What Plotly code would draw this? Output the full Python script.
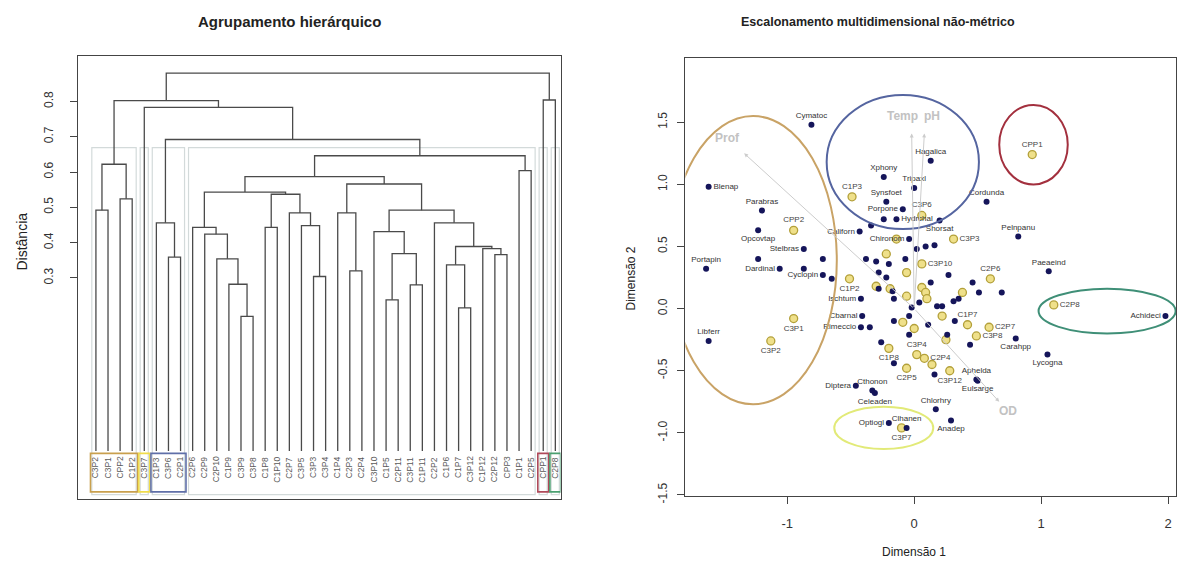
import plotly.graph_objects as go

FONT = "Liberation Sans, Arial, sans-serif"
W, H = 1177, 572

# ---------------- Dendrogram data ----------------
leaf_labels = ["C3P2", "C3P1", "CPP2", "C1P2", "C3P7", "C1P3", "C3P6", "C2P1",
               "C2P6", "C2P9", "C2P10", "C1P9", "C3P9", "C3P8", "C1P8", "C1P10",
               "C2P7", "C3P5", "C3P3", "C3P4", "C1P4", "C2P3", "C2P4", "C3P10",
               "C1P5", "C2P11", "C3P11", "C1P11", "C2P2", "C1P6", "C1P7", "C3P12",
               "C1P12", "C2P12", "CPP3", "C1P1", "C2P5", "CPP1", "C2P8"]
# R-style merge table: negative = leaf (1-based), positive = earlier merge (1-based)
merge_a = [-13, -25, -31, -12, -27, -19, -22, -30, -11, -7, -34, 2, -33, 8, -10, -24,
           -9, -15, -18, -6, -29, -17, -21, -1, 16, -3, 18, 17, 23, 28, -36, 24, 30,
           20, -5, 32, -38, 36]
merge_b = [-14, -26, -32, 1, -28, -20, -23, 3, 4, -8, -35, 5, 11, 13, 9, 12,
           15, -16, 6, 10, 14, 19, 7, -2, 21, -4, 22, 27, 25, 29, -37, 26, 31,
           33, 34, 35, -39, 37]
merge_h = [0.191, 0.238, 0.215, 0.282, 0.280, 0.304, 0.320, 0.337, 0.354, 0.359,
           0.366, 0.369, 0.383, 0.389, 0.424, 0.431, 0.443, 0.443, 0.448, 0.456,
           0.456, 0.484, 0.484, 0.492, 0.492, 0.524, 0.537, 0.543, 0.566, 0.587,
           0.604, 0.622, 0.646, 0.692, 0.783, 0.802, 0.804, 0.880]
leaf_bottom = -0.19
# rect.hclust (k = 6) clusters, leaf index ranges (0-based)
clus_first = [0, 4, 5, 8, 37, 38]
clus_last = [3, 4, 7, 36, 37, 38]
clus_cut = 0.669
# coloured label boxes
box_first = [0, 4, 5, 37, 38]
box_last = [3, 4, 7, 37, 38]
box_color = ["#c9a04e", "#f0dc4c", "#5f6fa8", "#b04a5a", "#4aa070"]
dend_ticks = [0.3, 0.4, 0.5, 0.6, 0.7, 0.8]

# ---------------- NMDS data ----------------
sp_name = ["Cymatoc", "Blenap", "Parabras", "Opcovtap", "Stelbras", "", "Portapin",
           "Dardinal", "Libferr", "Cyclopin", "", "", "Ischtum", "Cbarnal", "Rimeccio",
           "", "Diptera", "Cthonon", "Celeaden", "Optiogl", "Clhanen", "Chlorhry",
           "Anadep", "Aphelda", "Eulsarge", "", "Carahpp", "Lycogna", "Achideci",
           "Pelnpanu", "Paeaeind", "Cordunda", "Hagalica", "Xphony", "Tripaxl",
           "Synsfoet", "Porpone", "", "Hydrchal", "Shorsat", "Californ", "", "Chironom",
           "", "", "", "", "", "", "", "", "", "", "", "", "", "", "", "", "",
           "", "", "", "", "", "", "", "", "", "", "", "", "", "", "", ""]
sp_x = [-0.81, -1.62, -1.20, -1.23, -0.87, -1.23, -1.64, -1.06, -1.62, -0.72, -0.72,
        -0.65, -0.42, -0.41, -0.42, -0.35, -0.46, -0.33, -0.31, -0.20, -0.06, 0.17,
        0.29, 0.49, 0.50, 0.16, 0.80, 1.05, 1.98, 0.82, 1.06, 0.57, 0.13, -0.24,
        0.00, -0.22, -0.09, -0.24, -0.14, 0.20, -0.43, -0.34, -0.04,
        0.02, 0.09, 0.16, -0.38, -0.30, -0.20, -0.07, -0.28, -0.22, -0.28, -0.17,
        -0.16, 0.13, 0.27, 0.46, 0.51, 0.69, -0.02, 0.04, 0.18, 0.22, 0.31, 0.35,
        -0.16, -0.04, -0.04, 0.11, 0.32, 0.26, 0.44, -0.26, -0.16, -0.87]
sp_y = [1.48, 0.98, 0.79, 0.63, 0.48, 0.40, 0.32, 0.32, -0.26, 0.27, 0.40,
        0.24, 0.08, -0.06, -0.15, -0.15, -0.62, -0.66, -0.68, -0.92, -0.96, -0.81,
        -0.90, -0.57, -0.58, -0.53, -0.24, -0.37, -0.06, 0.58, 0.30, 0.86, 1.19, 1.06,
        0.97, 0.86, 0.80, 0.72, 0.72, 0.71, 0.62, 0.67, 0.56,
        0.48, 0.50, 0.51, 0.40, 0.38, 0.36, 0.40, 0.29, 0.25, 0.16, 0.14,
        0.08, 0.21, 0.27, 0.21, 0.13, 0.13, 0.01, 0.05, 0.02, 0.02, 0.06, 0.08,
        -0.10, -0.06, -0.21, -0.13, -0.10, -0.21, -0.29, -0.27, -0.44, 0.32]
sp_pos = ["top center", "middle right", "top center", "bottom center", "middle left",
          "top center", "top center", "middle left", "top center", "middle left",
          "top center", "top center", "middle left", "middle left", "middle left",
          "top center", "middle left", "top center", "bottom center", "middle left",
          "top center", "top center", "bottom center", "top center", "bottom center",
          "top center", "bottom center", "bottom center", "middle left", "top center",
          "top center", "top center", "top center", "top center", "top center",
          "top center", "middle left", "top center", "middle right", "bottom center",
          "middle left", "top center", "middle left"] + ["top center"] * 33

site_name = ["CPP1", "C2P8", "C3P7", "CPP2", "C3P1", "C3P2", "C1P2", "C1P3", "C3P6",
             "", "", "C3P3", "C3P10", "", "C2P6", "", "", "", "", "", "", "", "",
             "C1P7", "", "", "C2P7", "C3P8", "", "C1P8", "C3P4", "C2P4", "", "C2P5",
             "C3P12"]
site_x = [0.93, 1.10, -0.10, -0.95, -0.95, -1.13, -0.51, -0.49, 0.06, -0.14, -0.22,
          0.31, 0.06, -0.06, 0.60, 0.06, 0.09, 0.10, 0.38, -0.06, -0.30, -0.19, 0.22,
          0.42, -0.09, 0.00, 0.59, 0.49, 0.25, -0.20, 0.02, 0.08, 0.14, -0.06, 0.28]
site_y = [1.24, 0.03, -0.96, 0.63, -0.08, -0.26, 0.24, 0.90, 0.75, 0.56, 0.44,
          0.56, 0.36, 0.29, 0.24, 0.17, 0.13, 0.08, 0.13, 0.10, 0.18, 0.16, -0.06,
          -0.13, -0.11, -0.16, -0.15, -0.22, -0.25, -0.32, -0.37, -0.40, -0.45, -0.48,
          -0.50]
site_pos = ["top center", "middle right", "bottom center", "top center", "bottom center",
            "bottom center", "bottom center", "top center", "top center", "top center",
            "top center", "middle right", "middle right", "top center", "top center",
            "top center", "top center", "top center", "top center", "top center",
            "top center", "top center", "top center", "top center", "top center",
            "top center", "middle right", "middle right", "top center", "bottom center",
            "top center", "middle right", "top center", "bottom center", "bottom center"]

env_name = ["Prof", "Temp", "pH", "OD"]
env_x = [-1.34, -0.02, 0.08, 0.67]
env_y = [1.25, 1.41, 1.41, -0.75]

ell_cx = [-1.27, -0.09, 0.94, 1.52, -0.24]
ell_cy = [0.39, 1.18, 1.32, -0.02, -0.96]
ell_rx = [0.66, 0.60, 0.27, 0.54, 0.39]
ell_ry = [1.16, 0.54, 0.32, 0.18, 0.17]
ell_color = ["#c9a366", "#5565a0", "#a3303e", "#3f8f77", "#e2ea78"]

nmds_xticks = [-1, 0, 1, 2]
nmds_yticks = [-1.5, -1.0, -0.5, 0.0, 0.5, 1.0, 1.5]

# ---------------- Build figure ----------------
fig = go.Figure()

node_x = []
seg_x, seg_y = [], []


def child(v):
    if v < 0:
        return float(-v - 1), leaf_bottom
    return node_x[v - 1], merge_h[v - 1]


for a, b, h in zip(merge_a, merge_b, merge_h):
    xa, ha = child(a)
    xb, hb = child(b)
    seg_x += [xa, xa, xb, xb, None]
    seg_y += [ha, h, h, hb, None]
    node_x.append((xa + xb) / 2)

fig.add_trace(go.Scatter(x=seg_x, y=seg_y, mode="lines", xaxis="x", yaxis="y",
                         line=dict(color="#4a4a4a", width=1.3), hoverinfo="skip"))

YMIN_L, YMAX_L = -0.326, 0.928
shapes = []
for f, l in zip(clus_first, clus_last):
    shapes.append(dict(type="rect", xref="x", yref="y", x0=f - 0.34, x1=l + 0.33,
                       y0=YMIN_L + 0.012, y1=clus_cut,
                       line=dict(color="#d3dada", width=1.2), layer="below"))
for f, l, c in zip(box_first, box_last, box_color):
    shapes.append(dict(type="rect", xref="x", yref="y", x0=f - 0.45, x1=l + 0.45,
                       y0=-0.306, y1=-0.197, line=dict(color=c, width=1.6)))

annotations = []
for i, lab in enumerate(leaf_labels):
    annotations.append(dict(x=i, y=-0.2, xref="x", yref="y", text=lab, showarrow=False,
                            textangle=-90, xanchor="center", yanchor="top",
                            font=dict(size=8.5, color="#5a5a5a", family=FONT)))

# NMDS: group ellipses
for cx, cy, rx, ry, c in zip(ell_cx, ell_cy, ell_rx, ell_ry, ell_color):
    shapes.append(dict(type="circle", xref="x2", yref="y2", x0=cx - rx, x1=cx + rx,
                       y0=cy - ry, y1=cy + ry, line=dict(color=c, width=2)))

# environmental arrows (labels slightly beyond the tips; Temp/pH set side by side)
label_anchor = {"Prof": "center", "Temp": "right", "pH": "left", "OD": "center"}
label_nudge = {"Prof": 0.0, "Temp": 0.07, "pH": -0.03, "OD": 0.0}
for nm, ex, ey in zip(env_name, env_x, env_y):
    annotations.append(dict(x=ex, y=ey, ax=0, ay=0, xref="x2", yref="y2", axref="x2",
                            ayref="y2", text="", showarrow=True, arrowhead=2,
                            arrowsize=0.8, arrowwidth=1, arrowcolor="#cccccc"))
    annotations.append(dict(x=ex * 1.1 + label_nudge[nm], y=ey * 1.1, xref="x2", yref="y2",
                            text="<b>" + nm + "</b>", showarrow=False,
                            xanchor=label_anchor[nm],
                            font=dict(size=12, color="#c2c2c2", family=FONT)))

fig.add_trace(go.Scatter(x=site_x, y=site_y, mode="markers+text", xaxis="x2", yaxis="y2",
                         text=site_name, textposition=site_pos,
                         textfont=dict(size=8, color="#444444", family=FONT),
                         marker=dict(size=8, color="#efe08a",
                                     line=dict(color="#b3a03a", width=1.3)),
                         hoverinfo="skip"))
fig.add_trace(go.Scatter(x=sp_x, y=sp_y, mode="markers+text", xaxis="x2", yaxis="y2",
                         text=sp_name, textposition=sp_pos,
                         textfont=dict(size=8, color="#333333", family=FONT),
                         marker=dict(size=6, color="#15155a"),
                         hoverinfo="skip"))


def px2paper_x(px):
    return px / W


def px2paper_y(py):
    return 1 - py / H


for txt, x, y, size, ang in [
    ("<b>Agrupamento hierárquico</b>", 290, 22, 15, 0),
    ("<b>Escalonamento multidimensional não-métrico</b>", 879, 22, 12.5, 0),
    ("Distância", 22, 245, 14, -90),
    ("Dimensão 2", 632, 282, 12, -90),
    ("Dimensão 1", 915, 560, 12, 0),
]:
    annotations.append(dict(x=px2paper_x(x), y=px2paper_y(y), xref="paper", yref="paper",
                            text=txt, showarrow=False, textangle=ang,
                            xanchor="center", yanchor="middle",
                            font=dict(size=size, color="#222222", family=FONT)))

axis_common = dict(showgrid=False, zeroline=False, showline=True, mirror=True,
                   linecolor="#444444", linewidth=1)

fig.update_layout(
    width=W, height=H, margin=dict(l=0, r=0, t=0, b=0),
    paper_bgcolor="white", plot_bgcolor="white", showlegend=False,
    font=dict(family=FONT, color="#333333"),
    xaxis=dict(domain=[78 / W, 561 / W], range=[-1.488, 38.43], showticklabels=False,
               ticks="", **axis_common),
    yaxis=dict(domain=[1 - 506 / H, 1 - 57 / H], range=[YMIN_L, YMAX_L],
               tickvals=dend_ticks, ticktext=[f"{t:.1f}" for t in dend_ticks],
               ticks="outside", ticklen=7, tickcolor="#444444", tickangle=-90,
               ticklabelstandoff=12, tickfont=dict(size=12, color="#333333"), **axis_common),
    xaxis2=dict(domain=[686 / W, 1.0], range=[-1.803, 2.063], anchor="y2",
                tickvals=nmds_xticks, ticktext=[str(t) for t in nmds_xticks],
                ticks="outside", ticklen=7, tickcolor="#444444", ticklabelstandoff=8,
                tickfont=dict(size=13, color="#333333"), **axis_common),
    yaxis2=dict(domain=[1 - 503 / H, 1 - 59 / H], range=[-1.508, 2.016], anchor="x2",
                tickvals=nmds_yticks, ticktext=[f"{t:.1f}" for t in nmds_yticks],
                ticks="outside", ticklen=7, tickcolor="#444444", tickangle=-90,
                ticklabelstandoff=6, tickfont=dict(size=12, color="#333333"), **axis_common),
    shapes=shapes, annotations=annotations,
)

fig.write_html("out.html")
